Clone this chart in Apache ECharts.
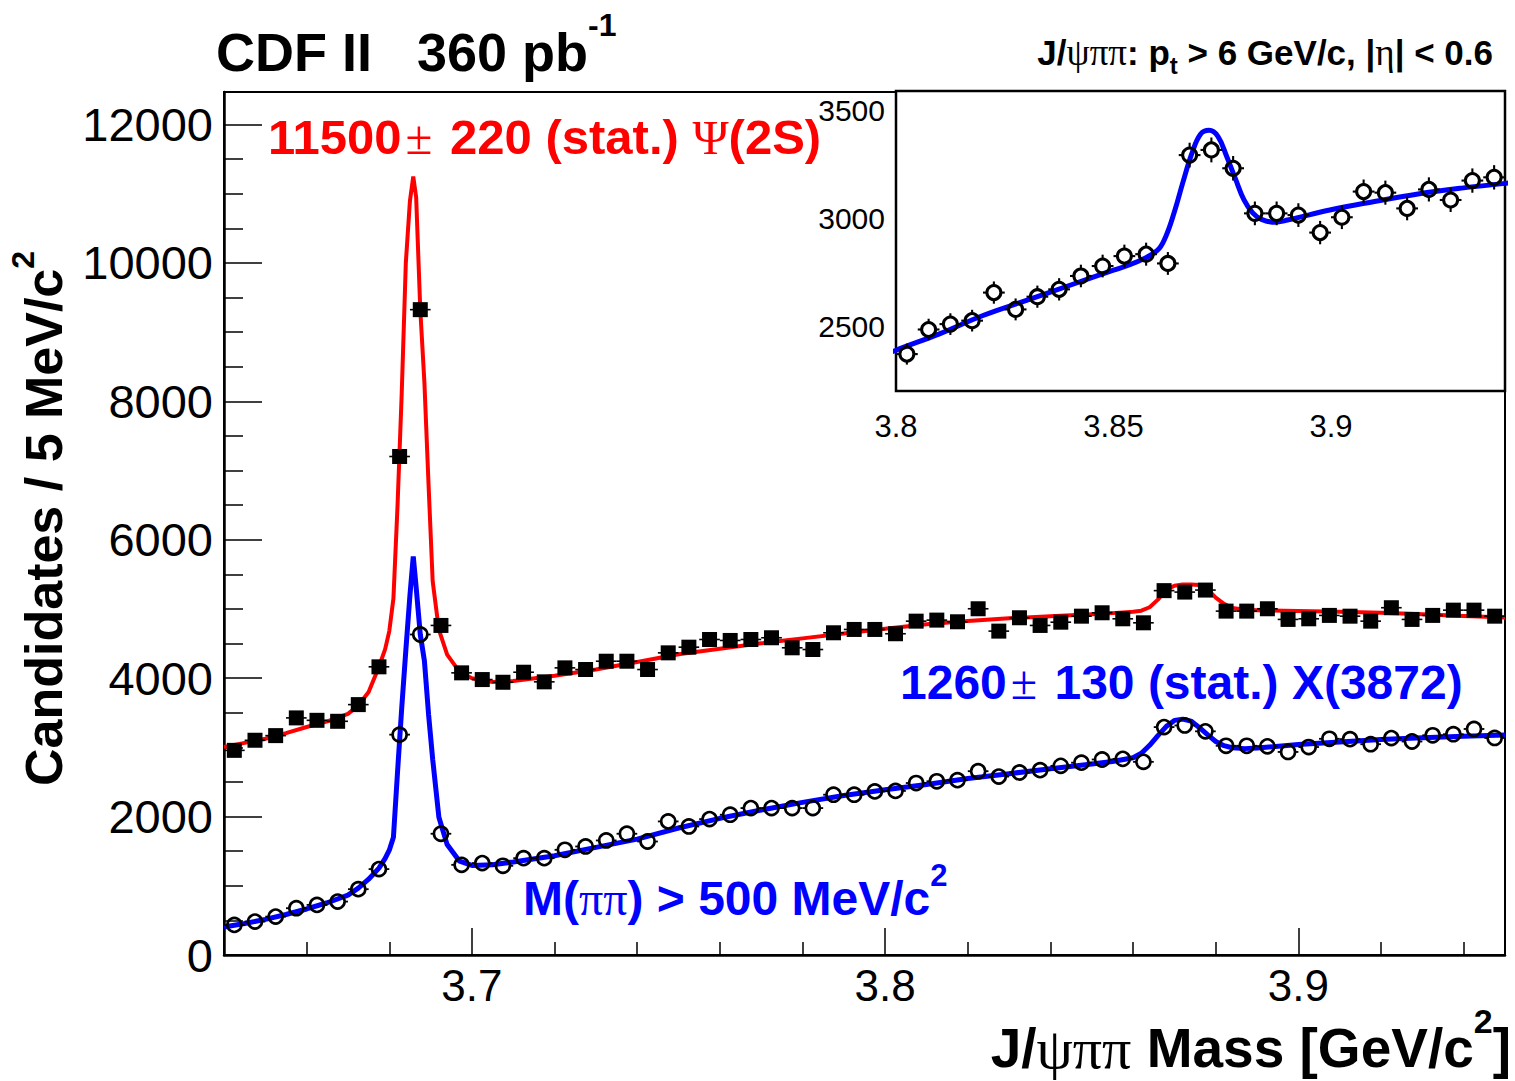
<!DOCTYPE html>
<html>
<head>
<meta charset="utf-8">
<title>CDF II J/psi pi pi mass spectrum</title>
<script src="https://cdn.jsdelivr.net/npm/echarts@6/dist/echarts.min.js"></script>
<style>
  html, body { margin: 0; padding: 0; background: #ffffff; }
  #chart { width: 1515px; height: 1081px; }
</style>
</head>
<body>
<div id="chart"></div>
<script>
// ---- histogram: J/psi pi pi candidates per 5 MeV/c^2 bin ----
const massBins = [
  3.6425, 3.6475, 3.6525, 3.6575, 3.6625, 3.6675, 3.6725, 3.6775, 3.6825, 3.6875,
  3.6925, 3.6975, 3.7025, 3.7075, 3.7125, 3.7175, 3.7225, 3.7275, 3.7325, 3.7375,
  3.7425, 3.7475, 3.7525, 3.7575, 3.7625, 3.7675, 3.7725, 3.7775, 3.7825, 3.7875,
  3.7925, 3.7975, 3.8025, 3.8075, 3.8125, 3.8175, 3.8225, 3.8275, 3.8325, 3.8375,
  3.8425, 3.8475, 3.8525, 3.8575, 3.8625, 3.8675, 3.8725, 3.8775, 3.8825, 3.8875,
  3.8925, 3.8975, 3.9025, 3.9075, 3.9125, 3.9175, 3.9225, 3.9275, 3.9325, 3.9375,
  3.9425, 3.9475
];

// all candidates (filled squares)
const allCandidates = [
  2957, 3102, 3170, 3426, 3391, 3377, 3618, 4164, 7203, 9325,
  4762, 4077, 3980, 3941, 4086, 3947, 4149, 4125, 4245, 4245,
  4125, 4366, 4448, 4559, 4545, 4559, 4584, 4439, 4414, 4656,
  4704, 4704, 4642, 4824, 4839, 4815, 5003, 4680, 4873, 4762,
  4809, 4896, 4945, 4858, 4800, 5265, 5244, 5273, 4969, 4969,
  5003, 4849, 4858, 4907, 4896, 4824, 5018, 4849, 4907, 4983,
  4983, 4896
];

// candidates with M(pi pi) > 500 MeV/c^2 (open circles)
const highMppCandidates = [
  435, 483, 555, 676, 724, 772, 951, 1241, 3184, 4631,
  1752, 1303, 1328, 1289, 1399, 1399, 1520, 1568, 1655, 1752,
  1640, 1930, 1857, 1964, 2027, 2123, 2123, 2123, 2123, 2316,
  2316, 2364, 2371, 2485, 2510, 2526, 2656, 2578, 2637, 2671,
  2733, 2779, 2825, 2834, 2791, 3293, 3317, 3232, 3023, 3023,
  3015, 2934, 3005, 3124, 3119, 3046, 3134, 3085, 3175, 3190,
  3266, 3136
];

// ---- fitted curves ----
const fitMass = [
  3.640, 3.645, 3.650, 3.655, 3.660, 3.665, 3.670, 3.6725, 3.675, 3.6775,
  3.679, 3.680, 3.681, 3.682, 3.683, 3.684, 3.685, 3.6858, 3.6865, 3.6875,
  3.6885, 3.6895, 3.6905, 3.692, 3.694, 3.697, 3.700, 3.705, 3.710, 3.720,
  3.730, 3.740, 3.750, 3.760, 3.770, 3.780, 3.790, 3.800, 3.810, 3.820,
  3.830, 3.840, 3.850, 3.855, 3.860, 3.862, 3.864, 3.866, 3.868, 3.870,
  3.872, 3.874, 3.876, 3.878, 3.880, 3.882, 3.884, 3.887, 3.890, 3.900,
  3.910, 3.920, 3.930, 3.940, 3.950
];
const fitAll = [
  3005, 3065, 3125, 3205, 3295, 3375, 3485, 3605, 3800, 4165,
  4420, 4680, 5150, 6500, 8100, 10000, 10900, 11250, 10950, 9325,
  8270, 6800, 5400, 4700, 4340, 4090, 4000, 3945, 3960, 4035,
  4125, 4235, 4345, 4425, 4505, 4575, 4645, 4715, 4780, 4825,
  4865, 4895, 4925, 4940, 4960, 4975, 5025, 5135, 5275, 5335,
  5355, 5355, 5345, 5285, 5165, 5075, 5015, 4990, 4980, 4970,
  4960, 4945, 4925, 4900, 4875
];
const fitHighMpp = [
  405, 455, 515, 585, 665, 755, 865, 966, 1095, 1255,
  1395, 1515, 1700, 2650, 3560, 4400, 5200, 5760, 5315, 4631,
  4250, 3480, 2830, 1990, 1595, 1355, 1295, 1305, 1345, 1435,
  1555, 1675, 1835, 1975, 2095, 2205, 2305, 2389, 2465, 2550,
  2620, 2690, 2760, 2795, 2850, 2915, 3030, 3170, 3300, 3390,
  3408, 3380, 3288, 3185, 3085, 3025, 2995, 2982, 2992, 3040,
  3078, 3113, 3140, 3162, 3180
];

// ---- axis ticks ----
const mainXLabels = [3.7, 3.8, 3.9];
const mainXMinor = [3.66, 3.68, 3.72, 3.74, 3.76, 3.78, 3.82, 3.84, 3.86, 3.88, 3.92, 3.94];
const mainYLabels = [0, 2000, 4000, 6000, 8000, 10000, 12000];
const mainYMinor = [500, 1000, 1500, 2500, 3000, 3500, 4500, 5000, 5500, 6500, 7000, 7500,
                    8500, 9000, 9500, 10500, 11000, 11500];
const insetXLabels = [3.8, 3.85, 3.9];
const insetXMinor = [3.81, 3.82, 3.83, 3.84, 3.86, 3.87, 3.88, 3.89, 3.91, 3.92, 3.93];
const insetYLabels = [2500, 3000, 3500];

const binHalfWidth = 0.0025;
const RED = '#ff0000';
const BLUE = '#0000ff';
const SANS = '"Liberation Sans", Arial, Helvetica, sans-serif';
const SERIF = '"Liberation Serif", "Times New Roman", serif';

const pointsAll = massBins.map((m, i) => [m, allCandidates[i]]);
const pointsHigh = massBins.map((m, i) => [m, highMppCandidates[i]]);
const pointsInset = pointsHigh.filter(p => p[0] > 3.80 && p[0] < 3.94);
const curveAll = fitMass.map((m, i) => [m, fitAll[i]]);
const curveHigh = fitMass.map((m, i) => [m, fitHighMpp[i]]);

// filled square with bin-width and sqrt(N) error bars
function renderSquare(params, api) {
  const x = api.value(0), y = api.value(1);
  const c = api.coord([x, y]);
  const l = api.coord([x - binHalfWidth, y]);
  const r = api.coord([x + binHalfWidth, y]);
  const err = Math.sqrt(y);
  const t = api.coord([x, y + err]);
  const b = api.coord([x, y - err]);
  const s = 15;
  return {
    type: 'group',
    children: [
      { type: 'line', shape: { x1: l[0], y1: c[1], x2: r[0], y2: c[1] }, style: { stroke: '#000', lineWidth: 1.6 } },
      { type: 'line', shape: { x1: c[0], y1: t[1], x2: c[0], y2: b[1] }, style: { stroke: '#000', lineWidth: 1.6 } },
      { type: 'rect', shape: { x: c[0] - s / 2, y: c[1] - s / 2, width: s, height: s }, style: { fill: '#000' } }
    ]
  };
}

// open circle; error bars stop at the marker edge
function makeCircleRenderer(radius, width) {
  return function (params, api) {
    const x = api.value(0), y = api.value(1);
    const c = api.coord([x, y]);
    const l = api.coord([x - binHalfWidth, y]);
    const r = api.coord([x + binHalfWidth, y]);
    const err = Math.sqrt(y);
    const t = api.coord([x, y + err]);
    const b = api.coord([x, y - err]);
    const st = { stroke: '#000', lineWidth: width * 0.7 };
    const kids = [];
    if (c[0] - l[0] > radius) {
      kids.push({ type: 'line', shape: { x1: l[0], y1: c[1], x2: c[0] - radius, y2: c[1] }, style: st });
      kids.push({ type: 'line', shape: { x1: c[0] + radius, y1: c[1], x2: r[0], y2: c[1] }, style: st });
    }
    if (c[1] - t[1] > radius) {
      kids.push({ type: 'line', shape: { x1: c[0], y1: t[1], x2: c[0], y2: c[1] - radius }, style: st });
      kids.push({ type: 'line', shape: { x1: c[0], y1: c[1] + radius, x2: c[0], y2: b[1] }, style: st });
    }
    kids.push({ type: 'circle', shape: { cx: c[0], cy: c[1], r: radius }, style: { fill: 'none', stroke: '#000', lineWidth: width } });
    return { type: 'group', children: kids };
  };
}

// ---- text with sub/superscripts, laid out piece by piece ----
const measureCtx = document.createElement('canvas').getContext('2d');
function fontOf(p) {
  return (p.weight || 'bold') + ' ' + p.size + 'px ' + (p.family || SANS);
}
function textRun(parts, x, y, color, anchor) {
  const widths = parts.map(p => {
    measureCtx.font = fontOf(p);
    return measureCtx.measureText(p.text).width + (p.gap || 0);
  });
  const total = widths.reduce((a, b) => a + b, 0);
  let cx = anchor === 'right' ? x - total : x;
  return parts.map((p, i) => {
    const el = {
      type: 'text', x: cx + (p.gap || 0) / 2, y: y + (p.dy || 0), silent: true,
      style: {
        text: p.text, font: fontOf(p), fill: color,
        align: 'left', textAlign: 'left', verticalAlign: 'middle', textVerticalAlign: 'middle'
      }
    };
    cx += widths[i];
    return el;
  });
}

const graphics = [].concat(
  textRun([
    { text: 'CDF II   360 pb', size: 54 },
    { text: '-1', size: 32, dy: -27 }
  ], 216, 52, '#000'),
  textRun([
    { text: 'J/', size: 35 },
    { text: 'ψππ', size: 37, weight: 'normal', family: SERIF },
    { text: ': p', size: 35 },
    { text: 't', size: 24, dy: 13 },
    { text: ' > 6 GeV/c, |', size: 35 },
    { text: 'η', size: 37, weight: 'normal', family: SERIF },
    { text: '| < 0.6', size: 35 }
  ], 1493, 52, '#000', 'right'),
  textRun([
    { text: '11500', size: 49 },
    { text: '±', size: 49, weight: 'normal', family: SERIF, gap: 8 },
    { text: ' 220 (stat.) ', size: 49 },
    { text: 'Ψ', size: 49, weight: 'normal', family: SERIF },
    { text: '(2S)', size: 49 }
  ], 268, 137, RED),
  textRun([
    { text: '1260', size: 48 },
    { text: '±', size: 48, weight: 'normal', family: SERIF, gap: 8 },
    { text: ' 130 (stat.) X(3872)', size: 48 }
  ], 900, 682, BLUE),
  textRun([
    { text: 'M(', size: 48 },
    { text: 'ππ', size: 48, weight: 'normal', family: SERIF },
    { text: ') > 500 MeV/c', size: 48 },
    { text: '2', size: 31, dy: -23 }
  ], 523, 898, BLUE),
  textRun([
    { text: 'J/', size: 55 },
    { text: 'ψππ', size: 58, weight: 'normal', family: SERIF },
    { text: ' Mass [GeV/c', size: 55 },
    { text: '2', size: 34, dy: -27 },
    { text: ']', size: 55 }
  ], 1511, 1048, '#000', 'right'),
  [{
    type: 'group', x: 44, y: 786, rotation: Math.PI / 2, silent: true,
    children: textRun([
      { text: 'Candidates / 5 MeV/c', size: 52 },
      { text: '2', size: 32, dy: -21 }
    ], 0, 0, '#000')
  }]
);

function axisBase(grid, min, max) {
  return {
    type: 'value', gridIndex: grid, min: min, max: max,
    splitLine: { show: false },
    axisLine: { show: false, onZero: false },
    axisTick: { show: false },
    axisLabel: { show: false }
  };
}

const xMainLabels = axisBase(0, 3.64, 3.95);
Object.assign(xMainLabels, {
  position: 'bottom',
  axisLine: { show: true, onZero: false, lineStyle: { color: '#000', width: 2.5 } },
  axisTick: { show: true, inside: true, length: 13, customValues: mainXMinor, lineStyle: { color: '#000', width: 1.5 } },
  axisLabel: { show: true, customValues: mainXLabels, formatter: v => v.toFixed(1), color: '#000', fontFamily: SANS, fontSize: 44, margin: 8 }
});
const xMainMajor = axisBase(0, 3.64, 3.95);
Object.assign(xMainMajor, {
  position: 'bottom',
  axisTick: { show: true, inside: true, length: 27, customValues: mainXLabels, lineStyle: { color: '#000', width: 1.5 } }
});

const yMainLabels = axisBase(0, 0, 12470);
Object.assign(yMainLabels, {
  position: 'left',
  axisLine: { show: true, onZero: false, lineStyle: { color: '#000', width: 2.5 } },
  axisTick: { show: true, inside: true, length: 38, customValues: mainYLabels, lineStyle: { color: '#000', width: 1.5 } },
  axisLabel: { show: true, customValues: mainYLabels, formatter: v => String(v), color: '#000', fontFamily: SANS, fontSize: 47, margin: 11 }
});
const yMainMinor = axisBase(0, 0, 12470);
Object.assign(yMainMinor, {
  position: 'left',
  axisTick: { show: true, inside: true, length: 19, customValues: mainYMinor, lineStyle: { color: '#000', width: 1.5 } }
});

const xInsetLabels = axisBase(1, 3.80, 3.94);
Object.assign(xInsetLabels, {
  position: 'bottom',
  axisTick: { show: true, inside: true, length: 5, customValues: insetXMinor, lineStyle: { color: '#000', width: 1.5 } },
  axisLabel: { show: true, customValues: insetXLabels, formatter: v => String(Math.round(v * 100) / 100), color: '#000', fontFamily: SANS, fontSize: 31, margin: 20 }
});
const xInsetMajor = axisBase(1, 3.80, 3.94);
Object.assign(xInsetMajor, {
  position: 'bottom',
  axisTick: { show: true, inside: true, length: 10, customValues: insetXLabels, lineStyle: { color: '#000', width: 1.5 } }
});
const yInset = axisBase(1, 2200, 3590);
Object.assign(yInset, {
  position: 'left',
  axisTick: { show: true, inside: true, length: 18, customValues: insetYLabels, lineStyle: { color: '#000', width: 1.5 } },
  axisLabel: { show: true, customValues: insetYLabels, formatter: v => String(v), color: '#000', fontFamily: SANS, fontSize: 30, margin: 11 }
});

const chart = echarts.init(document.getElementById('chart'), null, { renderer: 'svg' });
chart.setOption({
  animation: false,
  backgroundColor: '#ffffff',
  grid: [
    { left: 224, top: 92, width: 1281, height: 863, show: true, borderColor: '#000', borderWidth: 2,
      backgroundColor: 'transparent', outerBoundsMode: 'none', containLabel: false },
    { left: 896, top: 91, width: 609, height: 300, show: true, borderColor: '#000', borderWidth: 2.5,
      backgroundColor: '#ffffff', outerBoundsMode: 'none', containLabel: false, z: 5 }
  ],
  xAxis: [xMainLabels, xMainMajor, xInsetLabels, xInsetMajor],
  yAxis: [yMainLabels, yMainMinor, yInset],
  series: [
    { name: 'fit (all)', type: 'line', xAxisIndex: 0, yAxisIndex: 0, data: curveAll,
      symbol: 'none', smooth: false, lineStyle: { color: RED, width: 4 }, z: 2, silent: true },
    { name: 'fit (M(ππ) > 500)', type: 'line', xAxisIndex: 0, yAxisIndex: 0, data: curveHigh,
      symbol: 'none', smooth: false, lineStyle: { color: BLUE, width: 5 }, z: 2, silent: true },
    { name: 'all', type: 'custom', xAxisIndex: 0, yAxisIndex: 0, data: pointsAll,
      renderItem: renderSquare, z: 3, silent: true },
    { name: 'M(ππ) > 500', type: 'custom', xAxisIndex: 0, yAxisIndex: 0, data: pointsHigh,
      renderItem: makeCircleRenderer(7, 2.6), z: 3, silent: true },
    { name: 'inset fit', type: 'line', xAxisIndex: 2, yAxisIndex: 2, data: curveHigh,
      symbol: 'none', smooth: 0.4, lineStyle: { color: BLUE, width: 5 }, z: 6, silent: true },
    { name: 'inset points', type: 'custom', xAxisIndex: 2, yAxisIndex: 2, data: pointsInset,
      renderItem: makeCircleRenderer(7, 3), z: 7, silent: true }
  ],
  graphic: { elements: graphics }
});
</script>
</body>
</html>
